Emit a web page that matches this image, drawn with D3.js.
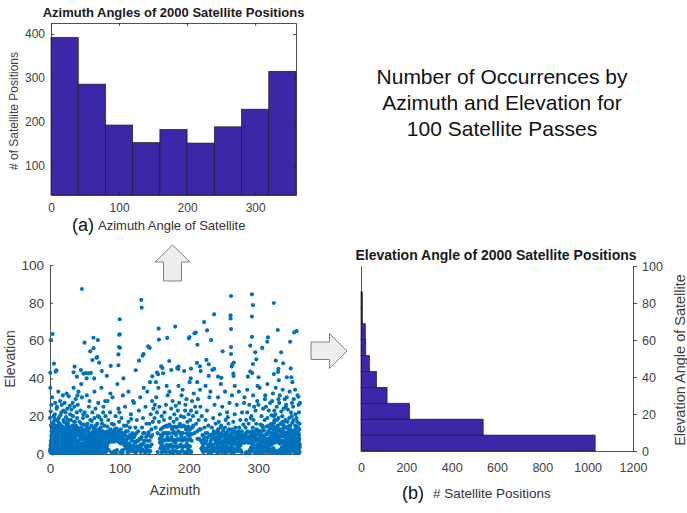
<!DOCTYPE html>
<html><head><meta charset="utf-8">
<script src="https://cdn.jsdelivr.net/npm/d3@7/dist/d3.min.js"></script>
<style>
body{margin:0;background:#fff;}
text{font-family:"Liberation Sans",Arial,Helvetica,sans-serif;}
</style></head><body>
<svg id="c" width="687" height="513"></svg>
<script>
// ---------------- DATA ----------------
const azBinEdges = [0,40,80,120,160,200,240,280,320,360];
const azCounts   = [392,286,193,153,183,152,189,229,315];
const azTicksX   = [0,100,200,300];
const azTicksY   = [100,200,300,400];

const elBinEdges = [0,8.6,17.2,25.8,34.4,43,51.6,60.2,68.8,77.4,86];
const elCounts   = [1033,539,214,115,68,37,21,19,6,6];
const elTicksX   = [0,200,400,600,800,1000,1200];
const elTicksY   = [0,20,40,60,80,100];

const scTicksX = [0,100,200,300];
const scTicksY = [0,20,40,60,80,100];

// scatter points [azimuth, elevation] — high elevations
const ptsHigh = [[45.9,87.3],[131.5,81.5],[132,77.4],[100.4,71.3],[3.8,63.5],[1.4,60.2],[99.5,63.1],[100.5,63.3],[49.7,58.9],[62.6,61.5],[69,60.3],[99.5,56.6],[100.8,56.2],[57.9,54.3],[62.7,56],[68,51.3],[67,50.9],[61,49.7],[70.8,48.3],[98.5,52.7],[98.5,46.9],[87.5,46.6],[5.7,47.8],[9.3,44.2],[8,43.6],[35.4,46.2],[44.5,44.4],[34,43.2],[48.3,42.5],[51.6,42.8],[55.5,42.7],[58.8,42.9],[38.7,40.9],[0.5,43],[74.6,43.9],[81.8,41.3],[63.6,40],[52.7,40],[105.7,40],[123.4,44.3],[128.2,49.4],[133.4,52.1],[134.6,52.9],[141.3,56.9],[143.6,56.1],[156.4,66.3],[156.8,60.5],[168.8,61.4],[180.3,67.4],[171.7,49.2],[160,46.4],[161.9,45.5],[154.2,43.1],[155.6,42.2],[147.3,41.1],[163,42.7],[174.6,44.4],[183.2,45.5],
[260.7,83.6],[290.8,84.5],[292.2,78.8],[322.3,79.9],[260,73.3],[260,71.7],[236.3,73.9],[290.8,72.7],[221.9,69.8],[260.7,66.1],[226.2,65.4],[200.9,61.9],[200,61.2],[208,63.8],[209.9,64.2],[232,60.3],[212.3,57.8],[290.8,62],[288.4,57.3],[313.8,61.7],[312.8,59.4],[305.6,56.1],[328,65.6],[351.5,64.3],[355,65],[345.8,59.4],[332.9,53.8],[260.7,56.6],[260.7,52.9],[248.6,54.3],[295.6,53.8],[297,50.1],[292.2,47.6],[264.7,48.4],[262.6,47.4],[261.8,46.3],[325.2,49.4],[335.7,48],[329,45],[328.4,43.4],[346.7,45.3],[322.4,42.3],[347.6,40.6],[341,40.6],[288.4,43.6],[291.2,42.8],[285,40.9],[300.3,40.6],[264,42.5],[264.4,41.3],[228.6,41.3],[242,40.9],[246.8,40.3],[233.9,44.5],[236.2,45],[225.3,49.8],[228.6,47.5],[211.6,48.2],[215.9,46.4],[217,43.9],[193.2,43.9],[203,45.2],[202.7,40],[185,46.3],[184.6,45],[357.8,30.3],[360,27]];

// scatter points [azimuth, elevation] — dense low-elevation region, by 10° strip
const ptsLowA = [
[0.5,1],[1,3],[1.5,5.5],[2,0.5],[2.5,8],[3,11],[3.5,2],[4,14],[4.5,6],[5,17],[5.5,0.8],[6,3.5],[6.5,9.5],[7,21],[7.5,12.5],[8,1.5],[8.5,5],[9,7.5],[9.5,24],[0,19],[1,22.5],[2,26],[3,30],[4,9],[5,12],[6,15.5],[7,4.5],[8,18],[9,2.5],[1.5,15],[3.5,7],[5.5,20],[7.5,27],[9.5,10.5],[0.5,35],
[10.5,1],[11,4],[11.5,7],[12,13],[12.5,19],[13,2.5],[13.5,9.5],[14,16],[14.5,28],[15,5.5],[15.5,0.5],[16,11],[16.5,22],[17,3.5],[17.5,14.5],[18,8],[18.5,31],[19,1.5],[19.5,18],[10,25],[11,10],[12,33],[13,6],[14,0.8],[15,20.5],[16,8.5],[17,26],[18,12],[19,4.5],[10.5,15],[12.5,3],[14.5,11.5],[16.5,1.8],[18.5,6.5],[19.5,23],
[20.5,2],[21,5],[21.5,9],[22,14],[22.5,0.7],[23,19.5],[23.5,3.5],[24,7],[24.5,11],[25,24],[25.5,1.5],[26,16],[26.5,6],[27,30.5],[27.5,9.5],[28,2.8],[28.5,13],[29,21],[29.5,4.5],[20,17],[21,27],[22,8],[23,12],[24,32],[25,5],[26,1],[27,18],[28,7.5],[29,10.5],[20.5,12],[22.5,22],[24.5,15],[26.5,3],[28.5,25.5],[29.5,0.5],
[30.5,1],[31,6],[31.5,10],[32,3],[32.5,15],[33,20],[33.5,8],[34,0.5],[34.5,12.5],[35,25],[35.5,4],[36,17],[36.5,7],[37,29],[37.5,2],[38,10.5],[38.5,22],[39,5],[39.5,14],[30,18],[31,23.5],[32,12],[33,4.5],[34,35],[35,9],[36,1.5],[37,13],[38,6],[39,19],[30.5,8.5],[32.5,27],[34.5,3],[36.5,11],[38.5,0.8],[39.5,31],
[40.5,2],[41,7],[41.5,12],[42,4],[42.5,17],[43,0.8],[43.5,9],[44,23],[44.5,5.5],[45,14],[45.5,2.5],[46,30],[46.5,8],[47,11],[47.5,19],[48,1],[48.5,6],[49,15.5],[49.5,3.5],[40,26],[42,10],[44,1.5],[45,37],[46,13],[47,4],[48,21],[49,8.5],[41,33],
[50.5,1.5],[51,5],[51.5,10],[52,7],[52.5,15],[53,2.5],[53.5,20],[54,4],[54.5,12],[55,8.5],[55.5,0.5],[56,25],[56.5,6],[57,13.5],[57.5,3],[58,18],[58.5,9],[59,1],[59.5,11],[50,22],[52,0.8],[53,31],[54,16],[55,5.5],[57,28],[58,7],[59,4.5],[51,13],
[60.5,2],[61,6.5],[61.5,10],[62,3],[62.5,14],[63,8.5],[63.5,0.5],[64,19],[64.5,5],[65,11.5],[65.5,24],[66,1.5],[66.5,7],[67,12.5],[67.5,3.5],[68,16],[68.5,9],[69,0.8],[69.5,27],[60,17.5],[61,22],[62,12],[64,33],[65,6],[66,15],[67,4.5],[68,10],[69,20],
[70.5,1],[71,5],[71.5,8.5],[72,11],[72.5,3],[73,14],[73.5,6.5],[74,18],[74.5,0.5],[75,9.5],[75.5,2],[76,12],[76.5,22],[77,7],[77.5,4],[78,15],[78.5,10],[79,1.5],[79.5,28],[70,13],[71,19.5],[72,6],[73,2],[74,35],[75,16],[76,8],[77,25],[78,3.5],
[80.5,1],[81,8],[81.5,11],[82,4],[82.5,14.5],[83,9],[84,18],[84.5,2],[85,10.5],[86,7.5],[86.5,22],[87,13],[88,9],[88.5,0.8],[89,16],[89.5,8],[80,20],[83,28],[87,32],
[90.5,8.5],[91,12],[91.5,1],[92,15.5],[92.5,9],[93,7.5],[94,11],[94.5,20],[95,8],[96,13.5],[96.5,2],[97,7],[98,10],[98.5,24],[99,6.5],[99.5,17],[90,30],[93,1.5],[97,37],
[100.5,6],[101,9.5],[101.5,0.8],[102,13],[102.5,7],[103,19],[104,6.5],[104.5,11],[105,2],[106,8],[106.5,15],[107,5.5],[108,25],[108.5,10],[109,3],[109.5,6],[100,22],[105,31],[103,1.5],
[110.5,4],[111,8],[111.5,1],[112,12],[112.5,5],[113,17],[114,2.5],[114.5,9],[115,14],[116,4],[116.5,21],[117,7.5],[118,1.5],[118.5,11],[119,3.5],[119.5,28],[110,15],[113,33],[117,18.5],
[120.5,2],[121,6.5],[122,10],[122.5,3.5],[123,14],[124,1],[125,18],[125.5,7],[126,4],[127,12],[128,23],[128.5,2.5],[129,8],[121,27],
[130.5,1],[131,5],[132,9],[132.5,14],[133,2.5],[134,19],[135,6],[136,11],[137,0.8],[137.5,25],[138,4],[139,16],[130,30],[135,35],
[140.5,2],[141,7],[142,11.5],[142.5,1],[143,16],[144,4],[145,21],[145.5,9],[146,13],[147,28],[148,17],[149,24],[140,33],[144,38],
[150.5,19],[151,26],[152,14],[153,30],[154,22],[155,11],[156,35],[157,17],[158,8],[159,3],[159.5,13],[152.5,38],[157.5,25],[155,1],
[160.5,1],[161,5.5],[162,9.5],[162.5,14],[163,3],[164,18],[164.5,7],[165,22],[166,11],[166.5,1.5],[167,26],[168,15],[168.5,5],[169,9],[169.5,31],[161,20],[165,2.5],[168,36],
[170.5,3],[171,7.5],[171.5,11],[172,15.5],[172.5,1],[173,19],[174,5],[174.5,24],[175,9],[176,13],[176.5,28],[177,2],[178,17],[178.5,6.5],[179,21],[179.5,11.5],[172,33],[175.5,0.5]];

const ptsLowB = [
[180.5,1.5],[181,6],[181.5,10],[182,14],[182.5,18.5],[183,3.5],[184,23],[184.5,8],[185,12],[186,27],[186.5,1],[187,16],[188,5],[188.5,20],[189,9.5],[189.5,31],[181,25.5],[185,36],
[190.5,2],[191,7],[191.5,11],[192,15],[192.5,4],[193,19.5],[194,8.5],[194.5,23],[195,0.8],[196,13],[196.5,29],[197,5.5],[198,17],[198.5,10],[199,2.5],[199.5,21],[191,34],[195,26],
[200.5,4],[201,9],[201.5,13],[202,18],[202.5,1.5],[203,23],[204,7],[204.5,28],[205,14],[206,20],[207,32],[208,11],[209,25],[201,38],
[210.5,16],[211,22],[212,12],[213,29],[214,18],[215,8],[216,34],[216.5,25],[217,13],[218,3],[218.5,20],[219,6],[219.5,10],[212,38],
[220.5,1],[221,5],[222,9],[222.5,14],[223,2.5],[224,18],[225,7],[226,23],[226.5,11],[227,1.5],[228,15],[229,4],[229.5,30],[224,36],
[230.5,2],[231,6.5],[232,10],[232.5,0.8],[233,14],[234,4],[235,19],[235.5,8],[236,12],[237,26],[238,3],[238.5,16],[239,7],[231,33],
[240.5,1],[241,5],[241.5,9],[242,13],[242.5,3],[243,17],[244,7],[244.5,21],[245,11],[246,1.5],[246.5,15],[247,5.5],[248,25],[248.5,9.5],[249,2.5],[249.5,12.5],[242,30],[246,37],
[250.5,2],[251,6],[251.5,10],[252,14],[252.5,0.7],[253,18],[254,4],[254.5,8],[255,22],[256,12],[256.5,3],[257,16],[258,6.5],[258.5,27],[259,10],[259.5,1.5],[252,33],[256,19.5],
[260.5,1],[261,5],[261.5,9],[262,13],[262.5,3],[263,7],[264,17],[264.5,11],[265,0.8],[266,21],[266.5,6],[267,14],[268,2.5],[268.5,9.5],[269,26],[269.5,5],[262,31],[266,36],
[270.5,1.5],[271,6],[271.5,10],[272,4],[272.5,14],[273,8],[274,18],[274.5,2],[275,7],[276,12],[276.5,22],[277,6.5],[278,9],[278.5,15.5],[279,7],[279.5,27],[272,33],[276,1],
[280.5,7.5],[281,10.5],[281.5,14],[282,6.5],[282.5,18],[283,8.5],[284,22],[284.5,12],[285,7],[286,16],[286.5,9],[287,26],[288,6],[288.5,11],[289,19],[289.5,8],[280,30],[283,1],[285.5,0.5],[287.5,2],[289.5,3.5],[284,34],
[290.5,6],[291,10],[291.5,2],[292,14],[292.5,5],[293,18],[294,8.5],[294.5,1],[295,12],[296,23],[296.5,4],[297,16],[298,7],[298.5,28],[299,10.5],[299.5,2.5],[290,20],[292.5,31],[294,25],[296,0.8],[297.5,13],[299,36],
[300.5,1],[301,4.5],[301.5,8],[302,12],[302.5,2.5],[303,15.5],[304,6],[304.5,20],[305,10],[306,1.5],[306.5,14],[307,24],[308,4],[308.5,9],[309,18],[309.5,29],[300,26],[302,35],[304,0.5],[306,7],[308,12.5],[309,3],
[310.5,2],[311,6],[311.5,10.5],[312,14.5],[312.5,1],[313,19],[314,4.5],[314.5,8],[315,23],[316,12],[316.5,2.5],[317,27],[318,6.5],[318.5,16],[319,10],[319.5,1.5],[310,31],[313,37],[315,5],[317,13.5],[319,20.5],[311,25],
[320.5,0.8],[321,6],[321.5,9.5],[322,13],[322.5,7],[323,17],[324,1],[324.5,21],[325,8],[326,11],[326.5,25],[327,7],[328,15],[328.5,0.5],[329,19],[329.5,10],[320,28],[321,32],[322,3],[323,23],[324,11.5],[325,35],[326,1.5],[327,18],[328,6.5],[329,29],[320.5,15],[322.5,20],[326.5,14],[329.5,39],
[330.5,2],[331,5.5],[331.5,9],[332,12.5],[332.5,1],[333,16],[334,3.5],[334.5,20],[335,7],[336,10.5],[336.5,24],[337,2],[338,14],[338.5,5.5],[339,18],[339.5,8.5],[330,27],[331,31],[332,0.5],[333,22.5],[334,11],[335,34],[336,4],[337,17],[338,29],[339,1.5],[330.5,13],[332.5,6.5],[336.5,15],[339.5,25],
[340.5,1],[341,4],[341.5,7.5],[342,11],[342.5,2.5],[343,14.5],[344,6],[344.5,19],[345,9],[346,0.8],[346.5,13],[347,22],[348,3.5],[348.5,8],[349,16.5],[349.5,5],[340,26],[341,30],[342,17],[343,1.5],[344,10],[345,33],[346,4.5],[347,12],[348,20],[349,38],[340.5,9.5],[342.5,23.5],[345.5,6.5],[348.5,27],
[350.5,2],[351,5],[351.5,9],[352,12],[352.5,0.5],[353,15],[354,3],[354.5,7],[355,19],[356,10.5],[356.5,1.5],[357,14],[358,4.5],[358.5,22],[359,8],[359.5,1],[350,25],[351,29],[352,6.5],[353,34],[354,11],[355,2.5],[356,17],[357,6],[358,26],[359,13],[350.5,18],[353.5,21],[356.5,31],[359.5,3.5]];

// extra points, lowest band (mostly below 18°)
const ptsLowC = [
[0.2,2],[0.8,4.5],[1.3,7],[1.8,9.5],[2.3,12],[2.8,1.2],[3.3,3.8],[3.8,16],[4.3,0.3],[4.8,10],[5.3,6.8],[5.8,13],[6.3,1.8],[6.8,18.5],[7.3,8.7],[7.8,3],[8.3,11.5],[8.8,14],[9.3,5.8],[9.8,0.8],
[10.2,6],[10.8,8.8],[11.3,2.2],[11.8,17],[12.3,11.2],[12.8,5],[13.3,0.6],[13.8,13.5],[14.3,7.2],[14.8,3.2],[15.3,9.8],[15.8,15],[16.3,4],[16.8,12.5],[17.3,0.9],[17.8,6.2],[18.3,10],[18.8,2.6],[19.3,14],[19.8,7.8],
[20.2,4],[20.8,7.3],[21.3,1],[21.8,11],[22.3,16.5],[22.8,5.7],[23.3,9],[23.8,2.4],[24.3,13],[24.8,0.5],[25.3,8],[25.8,18],[26.3,4.8],[26.8,10.8],[27.3,1.6],[27.8,14.2],[28.3,6],[28.8,3.6],[29.3,8.8],[29.8,12],
[30.2,3.5],[30.8,12],[31.3,0.7],[31.8,7.8],[32.3,5],[32.8,9.5],[33.3,14],[33.8,2.5],[34.3,6.8],[34.8,17],[35.3,1.5],[35.8,11],[36.3,4.3],[36.8,8.8],[37.3,15],[37.8,0.6],[38.3,3.8],[38.8,12.8],[39.3,7],[39.8,2],
[40.2,5],[40.8,10],[41.3,0.5],[41.8,3],[42.3,7.5],[42.8,13],[43.3,2],[43.8,5.5],[44.3,11],[44.8,16],[45.3,8],[45.8,0.7],[46.3,4],[47.3,9.5],[48.3,3.5],[49.3,12],
[50.2,3.5],[50.8,8],[51.3,0.8],[51.8,12],[52.3,4.5],[53.3,9.5],[53.8,6.5],[54.3,1.8],[54.8,14],[55.3,3],[56.3,10.5],[57.3,7],[57.8,1.2],[58.3,4],[59.3,8],[59.8,15],
[60.2,4.5],[60.8,8.5],[61.3,1],[62.3,6],[62.8,11],[63.3,3],[64.3,8],[64.8,13],[65.3,2],[66.3,4.5],[66.8,10],[67.3,7],[68.3,1],[68.8,5.5],[69.3,12],[69.8,3],
[70.2,3],[70.8,7],[71.3,11],[72.3,1],[72.8,9],[73.3,4.5],[74.3,12],[74.8,6],[75.3,2.5],[76.3,10],[76.8,4],[77.3,8],[78.3,1],[78.8,6],[79.3,11.5],[79.8,4],
[80.2,5],[80.8,10],[81.3,3],[82.3,7],[82.8,12],[83.3,5.5],[84.3,8],[85.3,6.5],[86.3,11],[87.3,8.5],[88.3,6.5],[89.3,10.5],
[90.2,7],[91.3,10],[92.3,6.5],[93.3,13],[94.3,7],[95.3,0.5],[96.3,9],[97.3,11.5],[98.3,7.5],[99.3,12],
[100.3,8],[101.3,11.5],[102.3,5.5],[103.3,9],[104.3,0.5],[105.3,7],[106.3,10.5],[107.3,4.5],[108.3,7.5],[109.3,12],
[110.3,6],[111.3,3],[112.3,9],[113.3,1],[114.3,5.5],[115.3,10],[116.3,2],[117.3,4],[118.3,7],[119.3,9],
[120.3,4.5],[121.3,9],[122.3,1],[123.3,6],[124.3,11],[126.3,2],[127.3,7],[129.3,4],
[130.3,3],[131.3,8],[133.3,5],[134.3,11],[135.3,1.5],[136.3,7],[138.3,9],[139.3,3],
[140.3,4.5],[141.3,10],[143.3,7],[144.3,1.5],[146.3,5],[147.3,10],
[158.3,6],[159.3,10],
[160.3,4],[161.3,7.5],[162.3,1],[163.3,11],[164.3,4],[165.3,14.5],[166.3,7.5],[167.3,1],[167.8,11],[168.8,4],[169.3,14.5],[169.8,7.5],
[170.3,11],[171.3,4],[172.3,7.5],[173.3,1],[174.3,14.5],[175.3,4],[176.3,7.5],[177.3,11],[177.8,1],[178.3,4],[179.3,14.5],[179.8,7.5],
[180.3,11],[181.3,4],[182.3,7.5],[183.3,1],[184.3,14.5],[185.3,4],[186.3,7.5],[187.3,11],[187.8,1],[188.3,4],[189.3,14.5],[189.8,7.5],
[190.3,11],[191.3,4],[192.3,7.5],[193.3,1],[194.3,14.5],[195.3,4],[196.3,7.5],[197.3,11],[197.8,1],[198.3,4],[199.3,14.5],[199.8,7.5],
[200.3,11],[201.3,4],[202.3,7.5],[203.3,1],[204.3,10.5],[206.3,15],
[212.3,8],[215.3,13],[217.3,7],[219.3,2],
[220.3,4],[221.3,8],[222.3,1.5],[223.3,6],[224.3,11],[225.3,3],[226.3,8.5],[227.3,5],[228.3,0.6],[229.3,10],
[230.3,5],[231.3,1],[232.3,8],[233.3,3],[234.3,10.5],[235.3,5],[236.3,1.5],[237.3,9],[238.3,6],[239.3,11],
[240.3,3.5],[240.8,8],[241.3,12],[242.3,1],[242.8,6],[243.3,10],[244.3,3.5],[245.3,8.5],[245.8,14],[246.3,5.5],[247.3,1],[247.8,10.5],[248.3,4],[249.3,7],
[250.3,4],[250.8,9],[251.3,1],[252.3,7],[252.8,11],[253.3,3],[254.3,6],[255.3,10],[255.8,1.2],[256.3,5.5],[257.3,8.5],[257.8,13],[258.3,3],[259.3,7],
[260.3,3.5],[260.8,7],[261.3,11],[262.3,1.5],[263.3,5],[263.8,9],[264.3,3],[265.3,6.5],[265.8,12],[266.3,2],[267.3,8],[268.3,5],[268.8,11.5],[269.3,2],
[270.3,4],[270.8,8],[271.3,12],[272.3,2],[273.3,6],[273.8,10],[274.3,4.5],[275.3,9],[276.3,6.5],[277.3,10],[278.3,6],[279.3,9.5],
[280.3,6],[281.3,8],[282.3,11],[283.3,6.5],[284.3,9],[285.3,6],[286.3,11.5],[287.3,7],[288.3,9],[289.3,6.5],[281.8,0.5],[288.8,1],
[290.3,8],[290.8,12],[291.3,5.5],[292.3,9],[293.3,6],[293.8,11],[294.3,3],[295.3,7],[296.3,10],[297.3,4],[297.8,8],[298.3,1.5],[299.3,5],[299.8,12.5],
[300.3,3.5],[300.8,7],[301.3,10],[302.3,0.6],[302.8,5.5],[303.3,9],[304.3,3],[304.8,12],[305.3,6.5],[306.3,4],[307.3,8.5],[307.8,1],[308.3,6],[309.3,10],[309.8,4.5],[305.8,15],
[310.3,4],[310.8,8],[311.3,1.5],[312.3,6],[312.8,10.5],[313.3,3],[314.3,12],[315.3,7.5],[315.8,1],[316.3,4.5],[317.3,9],[318.3,2.5],[318.8,11],[319.3,5],[319.8,8],[314.8,15],
[320.3,6.5],[320.8,11],[321.3,1.5],[322.3,8],[322.8,12],[323.3,6],[323.8,9.5],[324.3,14],[325.3,6.5],[325.8,10],[326.3,7],[327.3,12.5],[327.8,9],[328.3,6.2],[329.3,8],[329.8,13],[321.8,16],[325.3,0.8],[327.3,1.2],[323.3,18],
[330.3,6],[330.8,9],[331.3,12],[332.3,7],[332.8,10],[333.3,1.5],[333.8,13],[334.3,6],[335.3,9.5],[335.8,3],[336.3,12],[337.3,6.5],[337.8,9],[338.3,2],[338.8,11],[339.3,6],[339.8,14],[331.8,16],[334.8,17],[336.8,0.6],
[340.3,3],[340.8,7],[341.3,11],[341.8,1.5],[342.3,5],[342.8,9],[343.3,13],[343.8,3.5],[344.3,7.5],[344.8,11.5],[345.3,1],[345.8,15],[346.3,4],[346.8,9.5],[347.3,6],[347.8,1.8],[348.3,12],[348.8,4.5],[349.3,7.5],[349.8,10],
[350.3,3.5],[350.8,7],[351.3,11],[351.8,1],[352.3,4.5],[352.8,9],[353.3,13],[353.8,2.5],[354.3,6],[354.8,10],[355.3,14.5],[355.8,0.6],[356.3,4],[356.8,8],[357.3,11.5],[357.8,2],[358.3,6.5],[358.8,10],[359.3,16],[359.8,5]];

const titleLines = ["Number of Occurrences by","Azimuth and Elevation for","100 Satellite Passes"];

// ---------------- DRAW ----------------
const svg = d3.select("#c");
const AX = "#262626", LBL = "#404040";
const barFill = "#3E26A8";
const fmt = d3.format("d");

function styleAxis(g, labels=true){
  g.select(".domain").attr("stroke", AX).attr("stroke-width",0.8);
  g.selectAll(".tick line").attr("stroke", AX).attr("stroke-width",0.8);
  g.selectAll(".tick text").attr("fill", LBL).style("font-family",'"Liberation Sans",Arial,sans-serif');
  if(!labels) g.selectAll(".tick text").remove();
}

// ===== (a) top histogram =====
const xA = d3.scaleLinear([0,360],[51,296]);
const yA = d3.scaleLinear([34,425],[195,23]);
const bins = azCounts.map((c,i)=>({x0:azBinEdges[i],x1:azBinEdges[i+1],c}));
svg.append("g").selectAll("rect").data(bins).join("rect")
  .attr("x",d=>xA(d.x0)).attr("width",d=>xA(d.x1)-xA(d.x0))
  .attr("y",d=>yA(d.c)).attr("height",d=>yA(34)-yA(d.c))
  .attr("fill",barFill).attr("stroke","#1a1a1a").attr("stroke-width",0.7);

let g;
g = svg.append("g").attr("transform","translate(0,195)")
  .call(d3.axisBottom(xA).tickValues(azTicksX).tickFormat(fmt).tickSize(-3).tickSizeOuter(0).tickPadding(8));
g.attr("font-size",12); styleAxis(g);
g = svg.append("g").attr("transform","translate(0,23)")
  .call(d3.axisTop(xA).tickValues(azTicksX).tickSize(-3).tickSizeOuter(0));
styleAxis(g,false);
g = svg.append("g").attr("transform","translate(51,0)")
  .call(d3.axisLeft(yA).tickValues(azTicksY).tickFormat(fmt).tickSize(-3).tickSizeOuter(0).tickPadding(6));
g.attr("font-size",12); styleAxis(g);
g = svg.append("g").attr("transform","translate(296,0)")
  .call(d3.axisRight(yA).tickValues(azTicksY).tickSize(-3).tickSizeOuter(0));
styleAxis(g,false);

svg.append("text").attr("x",173.5).attr("y",17).attr("text-anchor","middle")
  .attr("font-size",13).attr("font-weight","bold").attr("fill","#1a1a1a")
  .text("Azimuth Angles of 2000 Satellite Positions");
svg.append("text").attr("transform","translate(18,111) rotate(-90)").attr("text-anchor","middle")
  .attr("font-size",12).attr("fill",LBL).text("# of Satellite Positions");
svg.append("text").attr("x",72).attr("y",231).attr("font-size",18).attr("fill","#111").text("(a)");
svg.append("text").attr("x",98).attr("y",230).attr("font-size",13).attr("fill","#333").text("Azimuth Angle of Satellite");

// ===== main title =====
svg.append("g").selectAll("text").data(titleLines).join("text")
  .attr("x",502).attr("y",(d,i)=>84+i*26).attr("text-anchor","middle")
  .attr("font-size",21).attr("fill","#111").text(d=>d);

// ===== scatter =====
const xS = d3.scaleLinear([0,360],[50,300]);
const yS = d3.scaleLinear([0,100],[454,265]);
const allPts = ptsHigh.concat(ptsLowA, ptsLowB, ptsLowC);
g = svg.append("g").attr("transform","translate(0,454)")
  .call(d3.axisBottom(xS).tickValues(scTicksX).tickFormat(fmt).tickSize(-3).tickSizeOuter(0).tickPadding(9));
g.attr("font-size",13.5); styleAxis(g);
g = svg.append("g").attr("transform","translate(50,0)")
  .call(d3.axisLeft(yS).tickValues(scTicksY).tickFormat(fmt).tickSize(-3).tickSizeOuter(0).tickPadding(6));
g.attr("font-size",13.5); styleAxis(g);
svg.append("g").selectAll("circle").data(allPts).join("circle")
  .attr("cx",d=>xS(d[0])).attr("cy",d=>yS(d[1])).attr("r",2.1)
  .attr("fill","#0072BD");
svg.append("text").attr("x",175).attr("y",495).attr("text-anchor","middle")
  .attr("font-size",14).attr("fill",LBL).text("Azimuth");
svg.append("text").attr("transform","translate(15,359) rotate(-90)").attr("text-anchor","middle")
  .attr("font-size",14).attr("fill",LBL).text("Elevation");

// ===== arrows =====
const arrowUp = [[172.5,245],[190,262],[181.5,262],[181.5,281],[163.5,281],[163.5,262],[155,262]];
const arrowRight = [[311,342],[329.5,342],[329.5,333.5],[347,351],[329.5,368.5],[329.5,359.5],[311,359.5]];
[arrowUp,arrowRight].forEach(p=>svg.append("path").attr("d",d3.line()(p)+"Z")
  .attr("fill","#eeeeee").attr("stroke","#808080").attr("stroke-width",1));

// ===== (b) elevation histogram =====
const xB = d3.scaleLinear([0,1200],[361,633]);
const yB = d3.scaleLinear([0,100],[451,266]);
const ebins = elCounts.map((c,i)=>({y0:elBinEdges[i],y1:elBinEdges[i+1],c}));
svg.append("g").selectAll("rect").data(ebins).join("rect")
  .attr("x",xB(0)).attr("width",d=>xB(d.c)-xB(0))
  .attr("y",d=>yB(d.y1)).attr("height",d=>yB(d.y0)-yB(d.y1))
  .attr("fill",barFill).attr("stroke","#1a1a1a").attr("stroke-width",0.7);
g = svg.append("g").attr("transform","translate(0,451)")
  .call(d3.axisBottom(xB).tickValues(elTicksX).tickFormat(fmt).tickSize(0).tickSizeOuter(0).tickPadding(12));
g.attr("font-size",12.5); styleAxis(g);
g = svg.append("g").attr("transform","translate(361,0)")
  .call(d3.axisLeft(yB).tickValues([]).tickSizeOuter(0));
styleAxis(g,false);
g = svg.append("g").attr("transform","translate(633,0)")
  .call(d3.axisRight(yB).tickValues(elTicksY).tickFormat(fmt).tickSize(4).tickSizeOuter(0).tickPadding(5));
g.attr("font-size",12.5); styleAxis(g);
svg.append("text").attr("x",496).attr("y",260).attr("text-anchor","middle")
  .attr("font-size",14).attr("font-weight","bold").attr("fill","#1a1a1a")
  .text("Elevation Angle of 2000 Satellite Positions");
svg.append("text").attr("transform","translate(685,360) rotate(-90)").attr("text-anchor","middle")
  .attr("font-size",14.5).attr("fill",LBL).text("Elevation Angle of Satellite");
svg.append("text").attr("x",402).attr("y",499).attr("font-size",18).attr("fill","#111").text("(b)");
svg.append("text").attr("x",433).attr("y",498).attr("font-size",13.5).attr("fill","#333").text("# Satellite Positions");
</script>
</body></html>
